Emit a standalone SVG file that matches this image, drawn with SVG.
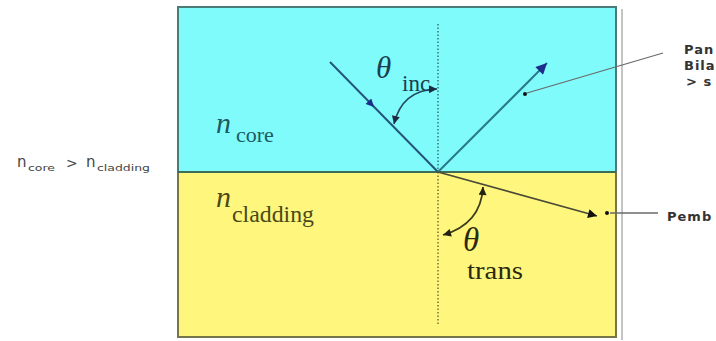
<svg xmlns="http://www.w3.org/2000/svg" width="716" height="341" viewBox="0 0 716 341">
  <style>
    .serif { font-family: "Liberation Serif", "DejaVu Serif", serif; }
    .sans { font-family: "DejaVu Sans", "Liberation Sans", sans-serif; }
    .lbl { fill: #333333; font-size: 13px; letter-spacing: 1px; }
    .leader { stroke: #6a6a6a; stroke-width: 1.3; fill: none; }
  </style>
  <defs>
    <marker id="ah-navy" viewBox="0 0 10 10" refX="10" refY="5" markerUnits="userSpaceOnUse" markerWidth="15" markerHeight="11" orient="auto">
      <path d="M0,0 L10,5 L0,10 z" fill="#1c2d8c"/>
    </marker>
    <marker id="ah-navy-s" viewBox="0 0 10 10" refX="10" refY="5" markerUnits="userSpaceOnUse" markerWidth="11" markerHeight="8" orient="auto">
      <path d="M0,0 L10,5 L0,10 z" fill="#1c2d8c"/>
    </marker>
    <marker id="ah-black" viewBox="0 0 10 10" refX="10" refY="5" markerUnits="userSpaceOnUse" markerWidth="13" markerHeight="9" orient="auto">
      <path d="M0,0 L10,5 L0,10 z" fill="#111111"/>
    </marker>
    <marker id="ah-arc" viewBox="0 0 10 10" refX="10" refY="5" markerUnits="userSpaceOnUse" markerWidth="10" markerHeight="8" orient="auto-start-reverse">
      <path d="M0,0 L10,5 L0,10 z" fill="#1a2a40"/>
    </marker>
    <marker id="ah-arc-y" viewBox="0 0 10 10" refX="10" refY="5" markerUnits="userSpaceOnUse" markerWidth="10" markerHeight="8" orient="auto-start-reverse">
      <path d="M0,0 L10,5 L0,10 z" fill="#222210"/>
    </marker>
  </defs>

  <!-- shadow line -->
  <line x1="622" y1="9" x2="622" y2="340" stroke="#c4c4c4" stroke-width="2"/>

  <g id="core">
    <rect x="178" y="7" width="438" height="165" fill="#80fbfb"/>
    <path d="M178,172 L178,7 L616,7 L616,172" fill="none" stroke="#4b7b78" stroke-width="2"/>
  </g>
  <g id="cladding">
    <rect x="178" y="172" width="438" height="165" fill="#fff67e"/>
    <path d="M178,172 L178,337 L616,337 L616,172" fill="none" stroke="#76764a" stroke-width="2"/>
  </g>
  <line x1="178" y1="172" x2="616" y2="172" stroke="#3f6c58" stroke-width="2"/>

  <!-- normal -->
  <line x1="438" y1="24" x2="438" y2="172" stroke="#2f5f64" stroke-width="1.3" stroke-dasharray="1.5 2"/>
  <line x1="438" y1="172" x2="438" y2="324" stroke="#5c5c30" stroke-width="1.3" stroke-dasharray="1.5 2"/>

  <g id="connectors">
    <!-- incident ray -->
    <line x1="330" y1="62" x2="438" y2="172" stroke="#24567a" stroke-width="2"/>
    <line x1="330" y1="62" x2="374" y2="107" stroke="none" marker-end="url(#ah-navy-s)"/>
    <!-- reflected ray -->
    <line x1="438" y1="172" x2="547" y2="63" stroke="#2a7a8a" stroke-width="2" marker-end="url(#ah-navy)"/>
    <!-- refracted ray -->
    <line x1="438" y1="172" x2="597" y2="216" stroke="#4a4a36" stroke-width="1.8" marker-end="url(#ah-black)"/>
    <!-- theta inc arc -->
    <path d="M394,124 Q402,90 437,89" fill="none" stroke="#244a5a" stroke-width="1.6" marker-start="url(#ah-arc)" marker-end="url(#ah-arc)"/>
    <!-- theta trans arc -->
    <path d="M483,187 Q481,224 443,235" fill="none" stroke="#3c3c1c" stroke-width="1.8" marker-start="url(#ah-arc-y)" marker-end="url(#ah-arc-y)"/>
    <!-- leader lines -->
    <line class="leader" x1="663" y1="53" x2="527" y2="93"/>
    <circle cx="525" cy="94" r="2" fill="#111"/>
    <line class="leader" x1="658" y1="213" x2="610" y2="213"/>
    <circle cx="607" cy="213" r="2" fill="#111"/>
  </g>

  <!-- labels inside -->
  <g id="label-ncore" class="serif" fill="#1e5a60">
    <text x="216" y="133" font-size="30" font-style="italic">n</text>
    <text x="236" y="142" font-size="22">core</text>
  </g>
  <g id="label-ncladding" class="serif" fill="#4a4a18">
    <text x="216" y="207" font-size="30" font-style="italic">n</text>
    <text x="232" y="222" font-size="23" textLength="82" lengthAdjust="spacingAndGlyphs">cladding</text>
  </g>
  <g id="label-thetainc" class="serif" fill="#1a4050">
    <text x="376" y="78" font-size="31" font-style="italic">θ</text>
    <text x="402" y="91" font-size="23">inc</text>
  </g>
  <g id="label-thetatrans" class="serif" fill="#2a2a10">
    <text x="463" y="251" font-size="33" font-style="italic">θ</text>
    <text x="467" y="279" font-size="25" textLength="56" lengthAdjust="spacingAndGlyphs">trans</text>
  </g>

  <!-- left condition -->
  <g id="label-condition" class="sans" fill="#444444">
    <text x="17" y="167" font-size="15">n</text>
    <text x="28" y="171" font-size="9" textLength="27" lengthAdjust="spacingAndGlyphs">core</text>
    <text x="66" y="168" font-size="14">&gt;</text>
    <text x="86" y="167" font-size="15">n</text>
    <text x="97" y="171" font-size="9" textLength="53" lengthAdjust="spacingAndGlyphs">cladding</text>
  </g>

  <!-- right callouts -->
  <g id="callout-reflect" class="sans lbl" font-weight="bold">
    <text x="684" y="54">Pan</text>
    <text x="684" y="70">Bila</text>
    <text x="686" y="86">&gt; s</text>
  </g>
  <g id="callout-trans" class="sans lbl" font-weight="bold">
    <text x="667" y="221">Pemb</text>
  </g>
</svg>
